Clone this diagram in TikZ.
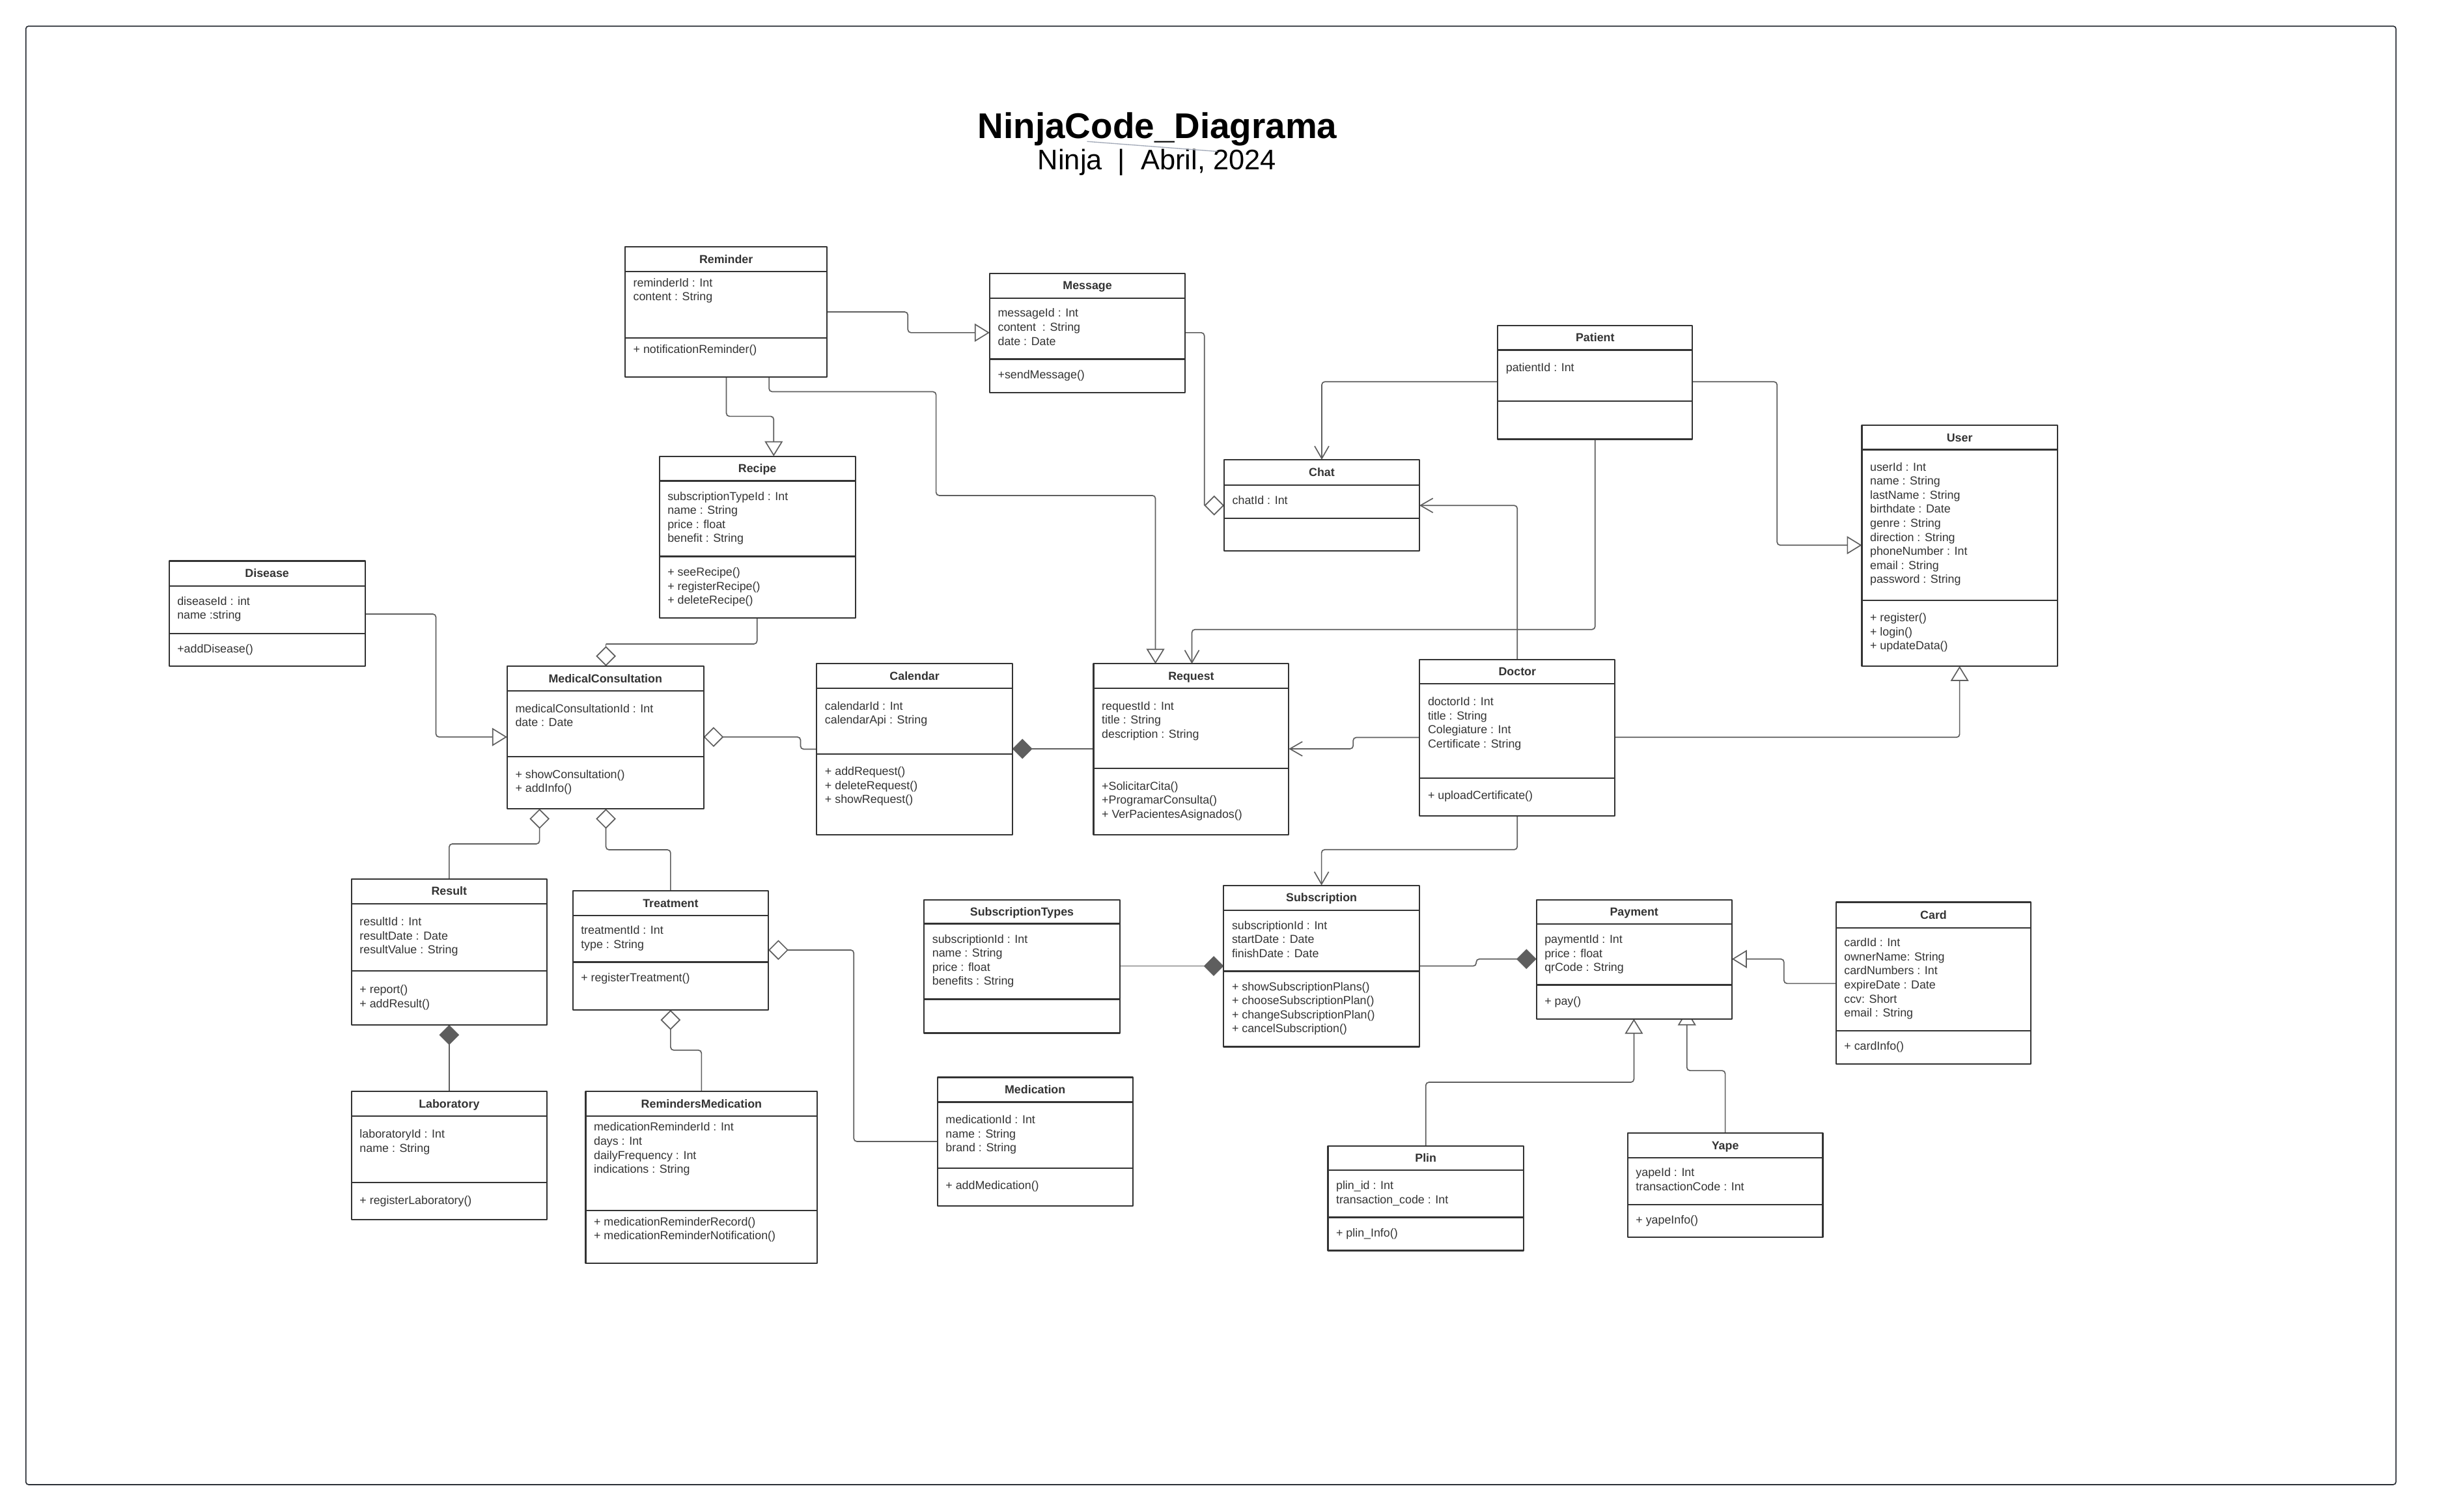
\documentclass[tikz,border=0pt]{standalone}
\usepackage{fontspec}
\setmainfont{Liberation Sans}
\usetikzlibrary{arrows.meta}
\definecolor{boxc}{HTML}{333333}
\definecolor{linec}{HTML}{5E5E5E}
\definecolor{framec}{HTML}{2B2F36}
\definecolor{strayc}{HTML}{A3AAB8}
\pgfdeclarelayer{background}
\pgfsetlayers{background,main}
\newcommand\mylines[1]{\vtop{\let\\\cr\baselineskip=6.4pt\lineskiplimit=-20pt\lineskip=0pt\halign{##\hfil\cr#1\crcr}}}
\newcommand\umlbox[8]{%
  \node[classbox, minimum width={(#4-#2)*0.025cm}, minimum height={(#5-#3)*0.025cm}] (#1) at ({(#2+#4)/2},{(#3+#5)/2}) {};
  \draw[boxline] (#2,#6) -- (#4,#6);
  \draw[boxline] (#2,#7) -- (#4,#7);
  \node[titletext] (#1-t) at ({(#2+#4)/2},{(#3+#6)/2+2.6}) {#8};
}
\newcommand\umltext[4]{\node[attrtext] (#1) at (#2+5,#3+2.5) {\mylines{#4}};}
\begin{document}
\begin{tikzpicture}[x=0.025cm,y=-0.025cm,line join=round,
  classbox/.style={draw=boxc, fill=white, line width=0.65pt, inner sep=0pt, outer sep=0pt, rectangle},
  boxline/.style={draw=boxc, line width=0.65pt},
  titletext/.style={anchor=base, inner sep=0pt, text=boxc, font=\bfseries\fontsize{5.3}{6.4}\selectfont},
  attrtext/.style={anchor=base west, inner sep=0pt, text=boxc, font=\fontsize{5.3}{6.4}\selectfont},
  conn/.style={draw=linec, line width=0.5pt, rounded corners=1.4pt},
  gen/.style={-{Triangle[open,length=2.4mm,width=2.9mm]}},
  assoc/.style={-{Straight Barb[length=2mm,width=2.3mm]}},
  aggr/.style={-{Diamond[open,length=3.2mm,width=3.2mm]}},
  comp/.style={-{Diamond[length=3.2mm,width=3.2mm,fill=linec]}},
]
\useasboundingbox (0,0) rectangle (1568,970);
\draw[framec, line width=0.5pt, rounded corners=1.2pt] (16.6,16.8) rectangle (1537.8,952.8);

% title
\node[anchor=base, inner sep=0pt, font=\bfseries\fontsize{16.3}{19}\selectfont] (title) at (742.9,89) {NinjaCode\_Diagrama};
\node[anchor=base, inner sep=0pt, font=\fontsize{12.9}{15}\selectfont] (subtitle) at (742.6,108.7) {Ninja\ \ |\ \ Abril, 2024};
\coordinate (s1) at (697.7,90.8);
\coordinate (s2) at (781.3,97.2);
\draw[strayc, line width=0.4pt] (s1) -- (s2);

% classes
\umlbox{reminder}{401.2}{158.5}{530.9}{242}{174.4}{217}{Reminder}
\umltext{reminder-a}{401.2}{181.5}{reminderId : Int\\content : String}
\umltext{reminder-m}{401.2}{224.3}{+ notificationReminder()}

\umlbox{message}{635.2}{175.4}{760.7}{251.9}{191.3}{230.5}{Message}
\umltext{message-a}{635.2}{201}{messageId : Int\\content\ \ : String\\date : Date}
\umltext{message-m}{635.2}{240.7}{+sendMessage()}

\umlbox{patient}{961.3}{208.8}{1086.3}{281.9}{224.6}{257.6}{Patient}
\umltext{patient-a}{961.3}{236.1}{patientId : Int}

\umlbox{user}{1195}{273}{1320.5}{427.5}{288.6}{385.2}{User}
\umltext{user-a}{1195}{299.8}{userId : Int\\name : String\\lastName : String\\birthdate : Date\\genre : String\\direction : String\\phoneNumber : Int\\email : String\\password : String}
\umltext{user-m}{1195}{396.4}{+ register()\\+ login()\\+ updateData()}

\umlbox{chat}{785.7}{295}{911}{353.7}{311.3}{332.5}{Chat}
\umltext{chat-a}{785.7}{321.2}{chatId : Int}

\umlbox{recipe}{423.2}{292.8}{549}{396.6}{308.6}{357.1}{Recipe}
\umltext{recipe-a}{423.2}{318.5}{subscriptionTypeId : Int\\name : String\\price : float\\benefit : String}
\umltext{recipe-m}{423.2}{367.2}{+ seeRecipe()\\+ registerRecipe()\\+ deleteRecipe()}

\umlbox{disease}{108.5}{360}{234.3}{427.5}{376.1}{406.6}{Disease}
\umltext{disease-a}{108.5}{385.9}{diseaseId : int\\name :string}
\umltext{disease-m}{108.5}{416.6}{+addDisease()}

\umlbox{mc}{325.5}{427.5}{451.6}{519.1}{443.4}{485.5}{MedicalConsultation}
\umltext{mc-a}{325.5}{454.7}{medicalConsultationId : Int\\date : Date}
\umltext{mc-m}{325.5}{497}{+ showConsultation()\\+ addInfo()}

\umlbox{calendar}{524.2}{426}{649.8}{535.6}{441.6}{483.8}{Calendar}
\umltext{calendar-a}{524.2}{453.1}{calendarId : Int\\calendarApi : String}
\umltext{calendar-m}{524.2}{495.2}{+ addRequest()\\+ deleteRequest()\\+ showRequest()}

\umlbox{request}{701.9}{426}{827.2}{535.6}{441.6}{493.1}{Request}
\umltext{request-a}{701.9}{453.1}{requestId : Int\\title : String\\description : String}
\umltext{request-m}{701.9}{504.5}{+SolicitarCita()\\+ProgramarConsulta()\\+ VerPacientesAsignados()}

\umlbox{doctor}{911.2}{423.2}{1036.5}{523.5}{438.8}{499.4}{Doctor}
\umltext{doctor-a}{911.2}{450.3}{doctorId : Int\\title : String\\Colegiature : Int\\Certificate : String}
\umltext{doctor-m}{911.2}{510.5}{+ uploadCertificate()}

\umlbox{result}{225.6}{564.1}{351}{657.8}{579.9}{623}{Result}
\umltext{result-a}{225.6}{591.6}{resultId : Int\\resultDate : Date\\resultValue : String}
\umltext{result-m}{225.6}{635.1}{+ report()\\+ addResult()}

\umlbox{treatment}{367.6}{571.7}{493.2}{648.2}{587.5}{617.5}{Treatment}
\umltext{treatment-a}{367.6}{597.1}{treatmentId : Int\\type : String}
\umltext{treatment-m}{367.6}{627.5}{+ registerTreatment()}

\umlbox{laboratory}{225.6}{700.5}{351}{782.8}{716.3}{758.9}{Laboratory}
\umltext{laboratory-a}{225.6}{727.9}{laboratoryId : Int\\name : String}
\umltext{laboratory-m}{225.6}{770.3}{+ registerLaboratory()}

\umlbox{remmed}{375.9}{700.5}{524.6}{810.9}{716.3}{777}{RemindersMedication}
\umltext{remmed-a}{375.9}{723.4}{medicationReminderId : Int\\days : Int\\dailyFrequency : Int\\indications : String}
\umltext{remmed-m}{375.9}{784.1}{+ medicationReminderRecord()\\+ medicationReminderNotification()}

\umlbox{medication}{601.7}{691.4}{727}{774}{707.3}{749.6}{Medication}
\umltext{medication-a}{601.7}{718.6}{medicationId : Int\\name : String\\brand : String}
\umltext{medication-m}{601.7}{761}{+ addMedication()}

\umlbox{subtypes}{593.1}{577.4}{718.7}{663}{592.8}{641.3}{SubscriptionTypes}
\umltext{subtypes-a}{593.1}{602.8}{subscriptionId : Int\\name : String\\price : float\\benefits : String}

\umlbox{subscription}{785.4}{568.2}{911}{671.8}{584.1}{623.3}{Subscription}
\umltext{subscription-a}{785.4}{594}{subscriptionId : Int\\startDate : Date\\finishDate : Date}
\umltext{subscription-m}{785.4}{633.3}{+ showSubscriptionPlans()\\+ chooseSubscriptionPlan()\\+ changeSubscriptionPlan()\\+ cancelSubscription()}

\umlbox{payment}{986.1}{577.4}{1111.6}{653.9}{593.1}{632.1}{Payment}
\umltext{payment-a}{986.1}{603}{paymentId : Int\\price : float\\qrCode : String}
\umltext{payment-m}{986.1}{642.5}{+ pay()}

\umlbox{card}{1178.4}{579}{1303.6}{682.7}{595.4}{661.4}{Card}
\umltext{card-a}{1178.4}{605.1}{cardId : Int\\ownerName: String\\cardNumbers : Int\\expireDate : Date\\ccv: Short\\email : String}
\umltext{card-m}{1178.4}{671.5}{+ cardInfo()}

\umlbox{plin}{852.3}{735.5}{977.9}{802.6}{751.1}{781.3}{Plin}
\umltext{plin-a}{852.3}{761}{plin\_id : Int\\transaction\_code : Int}
\umltext{plin-m}{852.3}{791.4}{+ plin\_Info()}

\umlbox{yape}{1044.7}{727.1}{1169.9}{794.2}{743}{773}{Yape}
\umltext{yape-a}{1044.7}{752.6}{yapeId : Int\\transactionCode : Int}
\umltext{yape-m}{1044.7}{783.1}{+ yapeInfo()}

% connectors
\begin{pgfonlayer}{background}
\draw[conn,gen] (reminder.east |- 0,200.2) -- (582.7,200.2) -- (582.7,213.5) -- (message.west |- 0,213.5);
\draw[conn,gen] (reminder.south -| 466.2,0) -- (466.2,267.2) -- (496.6,267.2) -- (recipe.north -| 496.6,0);
\draw[conn,gen] (reminder.south -| 493.6,0) -- (493.6,251.4) -- (600.8,251.4) -- (600.8,318) -- (741.6,318) -- (request.north -| 741.6,0);
\draw[conn] (message.east |- 0,213.5) -- (773,213.5) -- (773,324.4);
\draw[conn,aggr,rounded corners=0pt] (773,324.4) -- (chat.west |- 0,324.4);
\draw[conn,assoc] (patient.west |- 0,245) -- (848.35,245) -- (chat.north);
\draw[conn,gen] (patient.east |- 0,245) -- (1140.6,245) -- (1140.6,349.9) -- (user.west |- 0,349.9);
\draw[conn,assoc] (patient.south) -- (1023.8,404) -- (765,404) -- (request.north -| 765,0);
\draw[conn,assoc] (doctor.north) |- (chat.east |- 0,324.4);
\draw[conn,assoc] (doctor.west |- 0,473.3) -- (868.5,473.3) -- (868.5,480.6) -- (request.east |- 0,480.6);
\draw[conn,gen] (doctor.east |- 0,473.2) -| (user.south);
\draw[conn,assoc] (doctor.south) -- (973.85,545.3) -- (848.2,545.3) -- (subscription.north);
\draw[conn,comp] (request.west |- 0,480.6) -- (calendar.east |- 0,480.6);
\draw[conn,aggr] (calendar.west |- 0,480.8) -- (513.8,480.8) -- (513.8,473) -- (mc.east |- 0,473);
\draw[conn,gen] (disease.east |- 0,394.1) -- (279.8,394.1) -- (279.8,473) -- (mc.west |- 0,473);
\draw[conn] (recipe.south -| 485.9,0) -- (485.9,413.3) -- (388.9,413.3);
\draw[conn,aggr,rounded corners=0pt] (388.9,413.3) -- (mc.north -| 388.9,0);
\draw[conn,aggr] (result.north) -- (288.3,541.6) -- (346.3,541.6) -- (mc.south -| 346.3,0);
\draw[conn,aggr] (treatment.north) -- (430.4,545.4) -- (388.9,545.4) -- (mc.south -| 388.9,0);
\draw[conn,comp] (laboratory.north) -- (result.south);
\draw[conn,aggr] (medication.west |- 0,732.6) -- (548,732.6) -- (548,609.7) -- (treatment.east |- 0,609.7);
\draw[conn,aggr] (remmed.north) -- (450.25,674) -- (430.4,674) -- (treatment.south);
\draw[conn,comp] (subtypes.east |- 0,620) -- (subscription.west |- 0,620);
\draw[conn,comp] (subscription.east |- 0,620) -- (947.5,620) -- (947.5,615.5) -- (payment.west |- 0,615.5);
\draw[conn,gen] (card.west |- 0,631.2) -- (1145,631.2) -- (1145,615.5) -- (payment.east |- 0,615.5);
\draw[conn,gen] (plin.north) -- (915.1,694.6) -- (1048.7,694.6) -- (payment.south -| 1048.7,0);
\coordinate (yapetip) at (1082.7,648.4);
\draw[conn,gen] (yape.north) -- (1107.3,687.1) -- (1082.7,687.1) -- (yapetip);
\end{pgfonlayer}
\end{tikzpicture}
\end{document}
